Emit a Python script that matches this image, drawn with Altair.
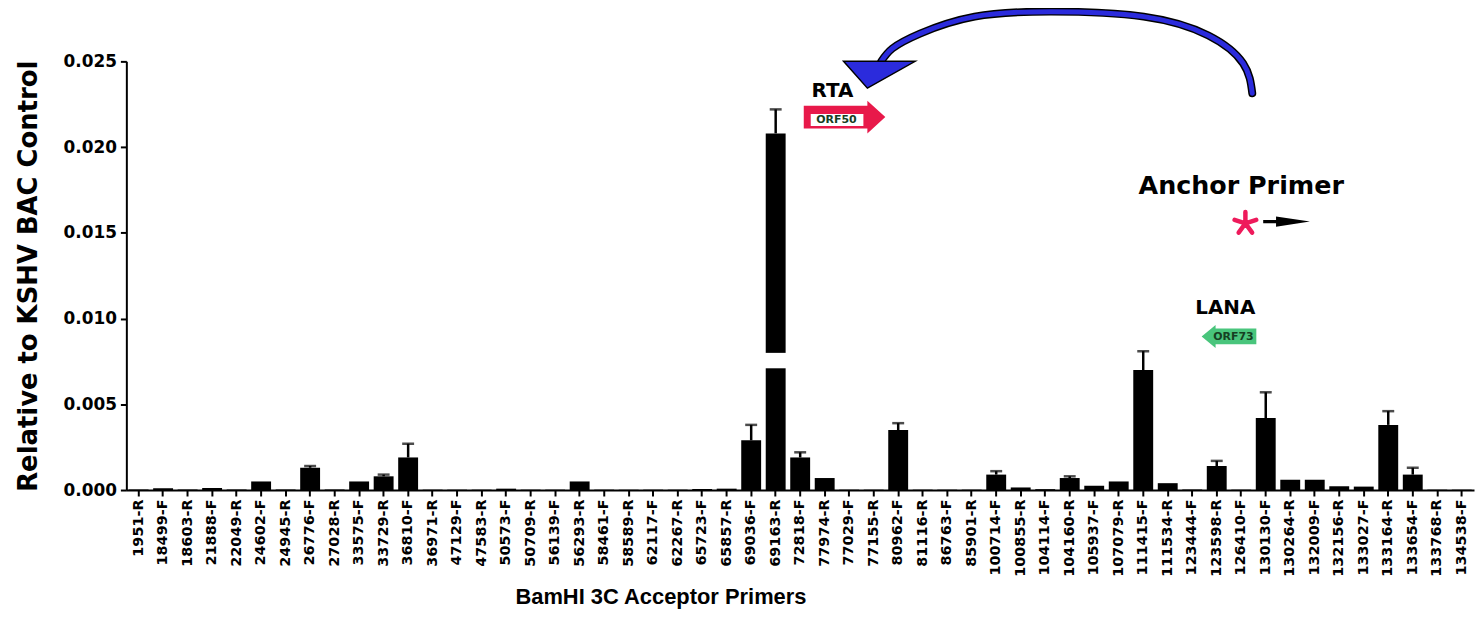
import altair as alt
import pandas as pd

# ---------------- data ----------------
categories = [
    "1951-R", "18499-F", "18603-R", "21888-F", "22049-R", "24602-F", "24945-R",
    "26776-F", "27028-R", "33575-F", "33729-R", "36810-F", "36971-R", "47129-F",
    "47583-R", "50573-F", "50709-R", "56139-F", "56293-R", "58461-F", "58589-R",
    "62117-F", "62267-R", "65723-F", "65857-R", "69036-F", "69163-R", "72818-F",
    "77974-R", "77029-F", "77155-R", "80962-F", "81116-R", "86763-F", "85901-R",
    "100714-F", "100855-R", "104114-F", "104160-R", "105937-F", "107079-R",
    "111415-F", "111534-R", "123444-F", "123598-R", "126410-F", "130130-F",
    "130264-R", "132009-F", "132156-R", "133027-F", "133164-R", "133654-F",
    "133768-R", "134538-F",
]
values = [
    0.00003, 0.0001, 0.00003, 0.00012, 0.00003, 0.0005, 0.00003,
    0.0013, 0.00003, 0.0005, 0.0008, 0.0019, 0.00002, 0.00002,
    0.00002, 0.00008, 0.00002, 0.00002, 0.0005, 0.00002, 0.00002,
    0.00002, 0.00002, 0.00006, 0.00008, 0.0029, 0.0208, 0.0019,
    0.0007, 0.00002, 0.00002, 0.0035, 0.00002, 0.00002, 0.00002,
    0.0009, 0.00015, 0.00005, 0.0007, 0.00025, 0.0005,
    0.0070, 0.0004, 0.00003, 0.0014, 0.00002, 0.0042,
    0.0006, 0.0006, 0.00022, 0.0002, 0.0038, 0.0009,
    0.00002, 0.00002,
]
errors = [
    0, 0, 0, 0, 0, 0, 0,
    0.0001, 0, 0, 0.0001, 0.0008, 0, 0,
    0, 0, 0, 0, 0, 0, 0,
    0, 0, 0, 0, 0.0009, 0.0014, 0.0003,
    0, 0, 0, 0.0004, 0, 0, 0,
    0.0002, 0, 0, 0.0001, 0, 0,
    0.0011, 0, 0, 0.0003, 0, 0.0015,
    0, 0, 0, 0, 0.0008, 0.0004,
    0, 0,
]

# axis break drawn on the tallest bar
break_category = ["69163-R"]
break_low = [0.0071]
break_high = [0.0080]

# annotation positions: x in category-index units (0..55), y in data units
text_labels = ["RTA", "LANA"]
text_x = [28.82, 44.85]
text_y = [0.02326, 0.01061]

anchor_label = ["Anchor Primer"]
anchor_x = [45.5]
anchor_y = [0.01775]

orf_labels = ["ORF50", "ORF73"]
orf_x = [28.98, 45.18]
orf_y = [0.02158, 0.00893]

curve_x = [45.95, 45.58, 44.16, 41.52, 37.75, 34.62, 32.39, 31.26, 30.81]
curve_y = [0.02314, 0.02488, 0.02651, 0.02761, 0.02790, 0.02761, 0.02662, 0.02575, 0.02500]

df = pd.DataFrame({"primer": categories, "value": values, "err": errors})
df["top"] = df["value"] + df["err"]
df_err = df[df["err"] > 0]

Y_DOM = [0, 0.025]

xband = alt.X(
    "primer:N",
    sort=categories,
    scale=alt.Scale(paddingInner=0, paddingOuter=0),
    axis=alt.Axis(
        title="BamHI 3C Acceptor Primers",
        labelAngle=-90,
        labelFont="DejaVu Sans",
        labelFontWeight="bold",
        labelFontSize=14.5,
        labelColor="black",
        labelPadding=3,
        labelOverlap=False,
        tickColor="black",
        tickWidth=2,
        tickSize=6,
        domainColor="black",
        domainWidth=2,
        titleFont="Liberation Sans",
        titleFontSize=22,
        titleFontWeight="bold",
        titleColor="black",
        titlePadding=10,
        titleX=537,
    ),
)

yq = alt.Y(
    "value:Q",
    scale=alt.Scale(domain=Y_DOM, nice=False),
    axis=alt.Axis(
        title="Relative to KSHV BAC Control",
        values=[0, 0.005, 0.010, 0.015, 0.020, 0.025],
        format=".3f",
        grid=False,
        labelFont="DejaVu Sans",
        labelFontWeight="bold",
        labelFontSize=17,
        labelColor="black",
        labelPadding=4,
        tickColor="black",
        tickWidth=2,
        tickSize=6,
        domainColor="black",
        domainWidth=2,
        titleFont="DejaVu Sans",
        titleFontSize=26,
        titleFontWeight="bold",
        titleColor="black",
        titlePadding=22,
    ),
)

bars = alt.Chart(df).mark_bar(color="black", width=20).encode(x=xband, y=yq)

gap = alt.Chart(pd.DataFrame({"primer": break_category, "lo": break_low, "hi": break_high})).mark_bar(
    color="white", width=24
).encode(
    x=alt.X("primer:N", sort=categories),
    y=alt.Y("lo:Q", scale=alt.Scale(domain=Y_DOM, nice=False)),
    y2="hi:Q",
)

stems = alt.Chart(df_err).mark_rule(color="black", strokeWidth=2.5).encode(
    x=alt.X("primer:N", sort=categories),
    y=alt.Y("value:Q", scale=alt.Scale(domain=Y_DOM, nice=False)),
    y2="top:Q",
)

caps = alt.Chart(df_err).mark_tick(color="black", thickness=2.5, size=12, orient="horizontal").encode(
    x=alt.X("primer:N", sort=categories),
    y=alt.Y("top:Q", scale=alt.Scale(domain=Y_DOM, nice=False)),
)

data_layer = alt.layer(bars, gap, stems, caps)

# ---------------- annotations ----------------
XA = alt.Scale(domain=[0, 55], nice=False, zero=False)
YA = alt.Scale(domain=Y_DOM, nice=False)


def ax(field="x"):
    return alt.X(f"{field}:Q", scale=XA, axis=None)


def ay(field="y"):
    return alt.Y(f"{field}:Q", scale=YA, axis=None)


curve_df = pd.DataFrame({"x": curve_x, "y": curve_y, "o": list(range(len(curve_x)))})
curve_black = alt.Chart(curve_df).mark_line(
    interpolate="natural", color="black", strokeWidth=8, strokeCap="round"
).encode(x=ax(), y=ay(), order="o:Q")
curve_blue = alt.Chart(curve_df).mark_line(
    interpolate="natural", color="#2b2bdc", strokeWidth=5, strokeCap="round"
).encode(x=ax(), y=ay(), order="o:Q")

blue_head = alt.Chart(pd.DataFrame({"x": [30.73], "y": [0.02422]})).mark_point(
    shape="M -1 -0.375 L 1 -0.375 L -0.333 0.375 Z",
    size=5184, filled=True, fill="#2b2bdc", stroke="black", strokeWidth=1.5, opacity=1,
).encode(x=ax(), y=ay())

red_arrow = alt.Chart(pd.DataFrame({"x": [29.31], "y": [0.02175]})).mark_point(
    shape="M -1 -0.28 L 0.56 -0.28 L 0.56 -0.40 L 1 0 L 0.56 0.40 L 0.56 0.28 L -1 0.28 Z",
    size=6724, filled=True, color="#e8194a", opacity=1, strokeWidth=0,
).encode(x=ax(), y=ay())

red_inner = alt.Chart(pd.DataFrame({"x": [27.93], "x2": [30.08], "y": [0.02193], "y2": [0.02123]})).mark_rect(
    color="white"
).encode(x=ax(), x2="x2:Q", y=ay(), y2="y2:Q")

green_arrow = alt.Chart(pd.DataFrame({"x": [45.0], "y": [0.00896]})).mark_point(
    shape="M -1 0 L -0.49 -0.42 L -0.49 -0.29 L 1 -0.29 L 1 0.29 L -0.49 0.29 L -0.49 0.42 Z",
    size=3025, filled=True, color="#49c57c", opacity=1, strokeWidth=0,
).encode(x=ax(), y=ay())

black_arrow = alt.Chart(pd.DataFrame({"x": [47.35], "y": [0.01566]})).mark_point(
    shape="M -1 -0.07 L -0.45 -0.07 L -0.45 -0.22 L 1 0 L -0.45 0.22 L -0.45 0.07 L -1 0.07 Z",
    size=2209, filled=True, color="black", opacity=1, strokeWidth=0,
).encode(x=ax(), y=ay())

asterisk = alt.Chart(pd.DataFrame({"x": [45.67], "y": [0.01555]})).mark_point(
    shape="M 0 -1 L 0 0 M 0 0 L 0.95 -0.31 M 0 0 L 0.59 0.81 M 0 0 L -0.59 0.81 M 0 0 L -0.95 -0.31",
    size=529, filled=False, stroke="#ee1a5b", strokeWidth=4.5, strokeCap="round", opacity=1,
).encode(x=ax(), y=ay())

gene_text = alt.Chart(pd.DataFrame({"x": text_x, "y": text_y, "t": text_labels})).mark_text(
    font="DejaVu Sans", fontWeight="bold", fontSize=20, color="black", align="center", baseline="middle"
).encode(x=ax(), y=ay(), text="t:N")

anchor_text = alt.Chart(pd.DataFrame({"x": anchor_x, "y": anchor_y, "t": anchor_label})).mark_text(
    font="DejaVu Sans", fontWeight="bold", fontSize=25.5, color="black", align="center", baseline="middle"
).encode(x=ax(), y=ay(), text="t:N")

orf_text = alt.Chart(pd.DataFrame({"x": orf_x, "y": orf_y, "t": orf_labels})).mark_text(
    font="DejaVu Sans", fontWeight="bold", fontSize=11, color="#163f22", align="center", baseline="middle"
).encode(x=ax(), y=ay(), text="t:N")

annot_layer = alt.layer(
    curve_black, curve_blue, blue_head, red_arrow, red_inner, green_arrow,
    black_arrow, asterisk, gene_text, anchor_text, orf_text,
)

chart = (
    alt.layer(data_layer, annot_layer)
    .resolve_scale(x="independent", y="independent")
    .properties(
        width=1355,
        height=431,
        autosize=alt.AutoSizeParams(type="none"),
        padding={"left": 119, "top": 52, "right": 2, "bottom": 126},
        background="white",
    )
    .configure_view(stroke=None)
)

chart.save("out.html", embed_options={"renderer": "svg", "actions": False})
